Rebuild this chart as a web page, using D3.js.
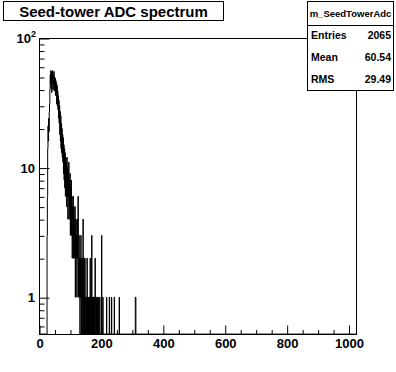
<!DOCTYPE html>
<html>
<head>
<meta charset="utf-8">
<script src="https://cdn.jsdelivr.net/npm/d3@7"></script>
<style>
  html, body { margin: 0; padding: 0; background: #fff; }
  svg { display: block; font-family: "Liberation Sans", Arial, Helvetica, sans-serif; font-weight: bold; }
</style>
</head>
<body>
<div id="canvas"></div>
<script>
'use strict';

/* Histogram contents: one bin per ADC count, 1024 bins from 0 to 1024. */
const histName = 'm_SeedTowerAdc';
const histTitle = 'Seed-tower ADC spectrum';
const nBins = 1024;
/* Bins 26..150 (dense part of the spectrum). */
const peakStartAdc = 26;
const peakCounts = [
  3, 6, 14, 21, 16, 24, 19, 27, 31, 40,
  52, 44, 56, 41, 55, 38, 53, 45, 56, 40,
  51, 44, 55, 39, 50, 42, 49, 36, 47, 38,
  45, 31, 43, 30, 39, 28, 36, 24, 33, 22,
  30, 18, 27, 16, 25, 14, 22, 13, 20, 12,
  18, 11, 17, 9, 15, 8, 14, 7, 13, 6,
  12, 8, 11, 5, 12, 6, 10, 4, 9, 6,
  11, 4, 8, 5, 9, 3, 7, 5, 8, 3,
  6, 2, 5, 4, 6, 2, 5, 3, 4, 2,
  5, 1, 3, 4, 2, 3, 1, 4, 2, 3,
  6, 1, 2, 3, 1, 2, 0, 2, 1, 3,
  1, 0, 2, 1, 2, 0, 4, 1, 0, 2,
  1, 0, 2, 1, 0,
];
/* Isolated entries in the tail. */
const tailAdc = [152, 155, 157, 160, 163, 165, 168, 170, 173, 176, 179, 181,
  185, 188, 192, 196, 202, 206, 218, 227, 234, 243, 259, 311, 312];
const tailCounts = [1, 2, 1, 1, 1, 2, 1, 3, 1, 1, 1, 2,
  1, 1, 1, 1, 3, 1, 1, 1, 1, 1, 1, 1, 1];

const xMajorTicks = [0, 200, 400, 600, 800, 1000];
const xMinorTicks = d3.range(0, 1024, 50).filter((v) => v % 200 !== 0);
const yMajorTicks = [1, 10, 100];
const yMajorLabels = ['1', '10', '10'];
const yMinorTicks = [0.6, 0.7, 0.8, 0.9, 2, 3, 4, 5, 6, 7, 8, 9,
  20, 30, 40, 50, 60, 70, 80, 90];

const statsLabels = ['Entries', 'Mean', 'RMS'];
const statsValues = ['2065', '60.54', '29.49'];

/* Canvas and frame geometry (pixels). */
const canvasWidth = 396;
const canvasHeight = 372;
const frame = {left: 39, right: 356, top: 38, bottom: 334};

const counts = new Array(nBins).fill(0);
peakCounts.forEach((c, i) => { counts[peakStartAdc + i] = c; });
tailAdc.forEach((adc, i) => { counts[adc] += tailCounts[i]; });

const x = d3.scaleLinear().domain([0, nBins]).range([frame.left, frame.right]);
const y = d3.scaleLog().domain([0.52, 100]).range([frame.bottom, frame.top]);

const svg = d3.select('#canvas').append('svg')
    .attr('width', canvasWidth)
    .attr('height', canvasHeight);

svg.append('rect')
    .attr('width', canvasWidth)
    .attr('height', canvasHeight)
    .attr('fill', '#fff');

svg.append('defs').append('clipPath')
    .attr('id', 'plot-clip')
    .append('rect')
    .attr('x', frame.left)
    .attr('y', frame.top)
    .attr('width', frame.right - frame.left)
    .attr('height', frame.bottom - frame.top);

/* Histogram outline; empty bins sit on the frame bottom like in ROOT. */
const steps = counts.map((c, i) => [i, c]);
steps.push([nBins, counts[nBins - 1]]);
const outline = d3.line()
    .x((d) => x(d[0]))
    .y((d) => (d[1] > 0 ? y(d[1]) : frame.bottom))
    .curve(d3.curveStepAfter);

svg.append('path')
    .attr('clip-path', 'url(#plot-clip)')
    .attr('d', outline(steps))
    .attr('fill', 'none')
    .attr('stroke', '#000')
    .attr('stroke-width', 1);

/* Frame */
svg.append('rect')
    .attr('x', frame.left + 0.5)
    .attr('y', frame.top + 0.5)
    .attr('width', frame.right - frame.left)
    .attr('height', frame.bottom - frame.top)
    .attr('fill', 'none')
    .attr('stroke', '#000');

/* X axis: ROOT style ticks point into the frame. */
const xAxisG = svg.append('g')
    .attr('transform', `translate(0.5, ${frame.bottom + 0.5})`);
xAxisG.append('g')
    .call(d3.axisBottom(x).tickValues(xMajorTicks).tickSize(-9)
        .tickPadding(4).tickFormat(d3.format('d')));
xAxisG.append('g')
    .call(d3.axisBottom(x).tickValues(xMinorTicks).tickSize(-4.5)
        .tickFormat(''));
xAxisG.selectAll('.domain').remove();
xAxisG.selectAll('text')
    .attr('font-size', 13)
    .attr('font-family', '"Liberation Sans", Arial, sans-serif')
    .attr('font-weight', 'bold')
    .attr('fill', '#000');

/* Y axis (log) */
const yAxisG = svg.append('g')
    .attr('transform', `translate(${frame.left + 0.5}, 0.5)`);
yAxisG.append('g')
    .call(d3.axisLeft(y).tickValues(yMajorTicks).tickSize(-10)
        .tickFormat(''));
yAxisG.append('g')
    .call(d3.axisLeft(y).tickValues(yMinorTicks).tickSize(-5)
        .tickFormat(''));
yAxisG.selectAll('.domain').remove();

const yLabels = svg.append('g')
    .attr('font-size', 13)
    .attr('text-anchor', 'end');
yMajorTicks.forEach((v, i) => {
  yLabels.append('text')
      .attr('x', v === 100 ? 31 : 35)
      .attr('y', y(v) + 5)
      .text(yMajorLabels[i]);
  if (v === 100) {
    yLabels.append('text')
        .attr('x', 36)
        .attr('y', y(v) - 1)
        .attr('font-size', 9)
        .text('2');
  }
});

/* Title box */
const titleG = svg.append('g');
titleG.append('rect')
    .attr('x', 3.5).attr('y', 1.5)
    .attr('width', 220).attr('height', 19)
    .attr('fill', '#fff').attr('stroke', '#000');
titleG.append('text')
    .attr('x', 113.5).attr('y', 16.5)
    .attr('text-anchor', 'middle')
    .attr('font-size', 15)
    .text(histTitle);

/* Statistics box */
const stats = {left: 307, right: 394, top: 1, bottom: 90, header: 25};
const statsG = svg.append('g');
statsG.append('rect')
    .attr('x', stats.left + 0.5).attr('y', stats.top + 0.5)
    .attr('width', stats.right - stats.left - 1)
    .attr('height', stats.bottom - stats.top)
    .attr('fill', '#fff').attr('stroke', '#000');
statsG.append('line')
    .attr('x1', stats.left).attr('x2', stats.right)
    .attr('y1', stats.header + 0.5).attr('y2', stats.header + 0.5)
    .attr('stroke', '#000');
statsG.append('text')
    .attr('x', (stats.left + stats.right) / 2).attr('y', 17)
    .attr('text-anchor', 'middle')
    .attr('font-size', 9.5)
    .text(histName);
const rowY = d3.scalePoint().domain(statsLabels).range([35, 79]);
statsLabels.forEach((label, i) => {
  statsG.append('text')
      .attr('x', stats.left + 4).attr('y', rowY(label) + 4)
      .attr('font-size', 10.5)
      .text(label);
  statsG.append('text')
      .attr('x', stats.right - 3).attr('y', rowY(label) + 4)
      .attr('text-anchor', 'end')
      .attr('font-size', 10.5)
      .text(statsValues[i]);
});
</script>
</body>
</html>
